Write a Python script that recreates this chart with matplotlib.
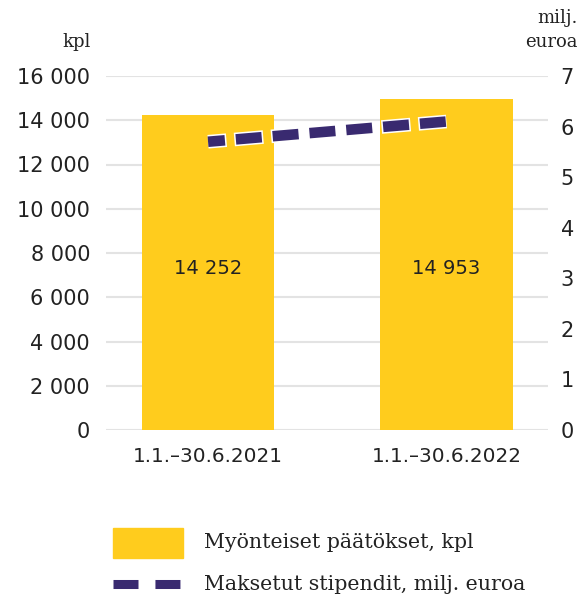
import matplotlib
matplotlib.use("Agg")
import matplotlib.pyplot as plt
from matplotlib.patches import Rectangle
from matplotlib.lines import Line2D
import numpy as np

plt.rcParams['lines.scale_dashes'] = False

# ---- data ----
categories = ["1.1.\u201330.6.2021", "1.1.\u201330.6.2022"]
decisions = [14252, 14953]          # Myönteiset päätökset, kpl
paid = [5.7, 6.1]                   # Maksetut stipendit, milj. euroa
left_ticks = [0, 2000, 4000, 6000, 8000, 10000, 12000, 14000, 16000]
right_ticks = [0, 1, 2, 3, 4, 5, 6, 7]
legend_labels = ["Myönteiset päätökset, kpl", "Maksetut stipendit, milj. euroa"]

YELLOW = "#FFCC1D"
PURPLE = "#392A70"
TEXT = "#222222"
GRID = "#E3E3E3"
SANS = "DejaVu Sans"
SERIF = "DejaVu Serif"

def fmt(v):
    return f"{v:,}".replace(",", " ")

fig = plt.figure(figsize=(5.78, 6.01), dpi=100)
W, H = 578, 601
ax = fig.add_axes([106 / W, 1 - 430 / H, (548 - 106) / W, (430 - 76) / H])
ax2 = ax.twinx()

x = np.arange(len(categories))
ax.bar(x, decisions, width=0.555, color=YELLOW, zorder=2)
label_y = np.mean(decisions) / 2
for xi, v in zip(x, decisions):
    ax.text(xi, label_y, fmt(v), ha="center", va="center", fontsize=14,
            color=TEXT, family=SANS, zorder=3)

ax.set_xlim(-0.428, 1.426)
ax.set_ylim(0, 16000)
ax.set_yticks(left_ticks)
ax.set_yticklabels([fmt(t) for t in left_ticks])
ax.set_xticks(x)
ax.set_xticklabels(categories)
ax.yaxis.grid(True, color=GRID, linewidth=1.5, zorder=0)
ax.set_axisbelow(True)
ax.tick_params(axis="y", length=0, pad=11.5, labelsize=15, labelcolor=TEXT)
ax.tick_params(axis="x", length=0, pad=12, labelsize=14.4, labelcolor=TEXT)
for lab in ax.get_xticklabels() + ax.get_yticklabels():
    lab.set_family(SANS)
for s in ax.spines.values():
    s.set_visible(False)

ax2.set_ylim(0, 7)
ax2.set_yticks(right_ticks)
ax2.tick_params(axis="y", length=0, pad=9, labelsize=15, labelcolor=TEXT)
for lab in ax2.get_yticklabels():
    lab.set_family(SANS)
for s in ax2.spines.values():
    s.set_visible(False)

# dashed line with white outline
ax2.plot(x, paid, color="white", linewidth=9.8, dash_capstyle="butt",
         linestyle=(7.6, (20.9, 5.7)), zorder=4)
ax2.plot(x, paid, color=PURPLE, linewidth=7.6, dash_capstyle="butt",
         linestyle=(6.5, (18.7, 7.9)), zorder=5)

# axis unit labels
fig.text(91 / W, 1 - 42 / H, "kpl", ha="right", va="center", fontsize=13,
         family=SERIF, color=TEXT)
fig.text(578 / W, 1 - 18 / H, "milj.", ha="right", va="center", fontsize=13,
         family=SERIF, color=TEXT)
fig.text(578 / W, 1 - 42 / H, "euroa", ha="right", va="center", fontsize=13,
         family=SERIF, color=TEXT)

# legend (manual)
fig.patches.append(Rectangle((113 / W, 1 - 558 / H), 70 / W, 30 / H,
                             transform=fig.transFigure, color=YELLOW))
fig.text(204 / W, 1 - 543 / H, legend_labels[0], ha="left", va="center",
         fontsize=14.8, family=SERIF, color=TEXT)
fig.lines.append(Line2D([113 / W, 181 / W], [1 - 584 / H, 1 - 584 / H],
                        transform=fig.transFigure, color=PURPLE, linewidth=6.5,
                        dash_capstyle="butt", linestyle=(0, (18.0, 12.2))))
fig.text(204 / W, 1 - 584 / H, legend_labels[1], ha="left", va="center",
         fontsize=14.8, family=SERIF, color=TEXT)

fig.savefig("out.png", dpi=100)
